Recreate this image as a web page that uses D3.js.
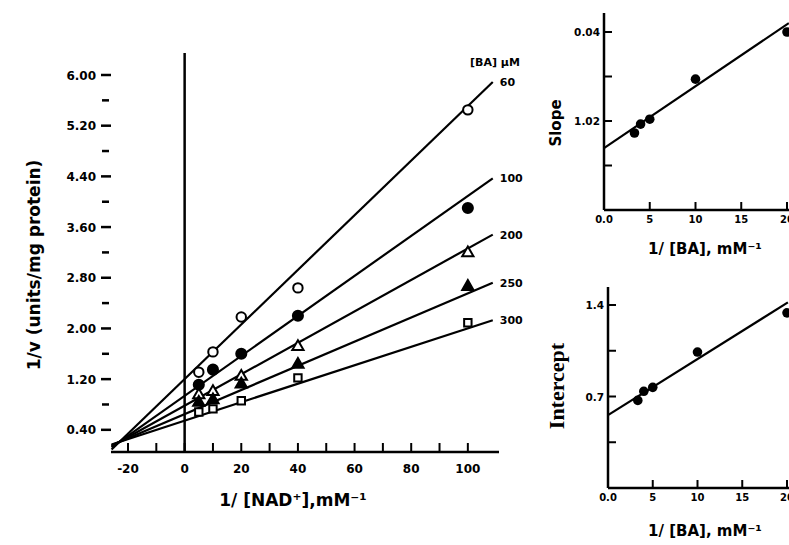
<!DOCTYPE html>
<html><head><meta charset="utf-8">
<script src="https://cdn.jsdelivr.net/npm/d3@7"></script>
<style>
html,body{margin:0;padding:0;background:#fff;}
svg{display:block;}
text{font-family:"DejaVu Sans",sans-serif;font-weight:bold;fill:#000;}
</style></head>
<body>
<svg id="c" width="789" height="545"></svg>
<script>
// ---------- Main Lineweaver-Burk plot ----------
const nadX = [5, 10, 20, 40, 100];
const seriesNames = ["60", "100", "200", "250", "300"];
const s60  = [1.31, 1.63, 2.18, 2.64, 5.45];
const s100 = [1.11, 1.35, 1.60, 2.20, 3.90];
const s200 = [0.95, 1.00, 1.24, 1.71, 3.19];
const s250 = [0.83, 0.87, 1.12, 1.43, 2.66];
const s300 = [0.68, 0.73, 0.86, 1.22, 2.09];
const fitSlope     = [0.0431, 0.03156, 0.02481, 0.01904, 0.01457];
const fitIntercept = [1.201, 0.936, 0.781, 0.648, 0.545];
const fitRange = [-25.8, 108.8];
const mainXTicks = [-20, 0, 20, 40, 60, 80, 100];
const mainYTicks = ["6.00", "5.20", "4.40", "3.60", "2.80", "2.00", "1.20", "0.40"];

// ---------- Insets ----------
const baX = [3.33, 4, 5, 10, 20];
const slopeVals = [0.0173, 0.0193, 0.0204, 0.0294, 0.0400];
const slopeFit = [0.0139, 0.042];      // at x=0 and x=20.2
const interceptVals = [0.67, 0.74, 0.77, 1.04, 1.34];
const interceptFit = [0.557, 1.42];    // at x=0 and x=20.1
const insetXTicks = ["0.0", "5", "10", "15", "20"];
const slopeYTicks = [[0.04, "0.04"], [0.03, ""], [0.02, "1.02"], [0.01, ""]];
const interceptYTicks = [[1.4, "1.4"], [1.05, ""], [0.7, "0.7"], [0.35, ""]];

const svg = d3.select("#c");
svg.append("rect").attr("width", 789).attr("height", 545).attr("fill", "#fff");

const x = d3.scaleLinear().domain([-26, 111]).range([111, 499]);
const y = d3.scaleLinear().domain([0.05, 6.0]).range([452, 75]);
const g = svg.append("g");

// x axis line
g.append("line").attr("x1", x(-26)).attr("x2", x(111)).attr("y1", y(0.05)).attr("y2", y(0.05))
  .attr("stroke", "#000").attr("stroke-width", 2.5);
// x ticks every 10 (inward)
d3.range(-20, 101, 10).forEach(t => {
  g.append("line").attr("x1", x(t)).attr("x2", x(t)).attr("y1", y(0.05)).attr("y2", y(0.05) - 9)
    .attr("stroke", "#000").attr("stroke-width", 2);
});
mainXTicks.forEach(t => {
  g.append("text").attr("x", x(t)).attr("y", y(0.05) + 21).attr("text-anchor", "middle")
    .attr("font-size", 12).text(t < 0 ? "-" + Math.abs(t) : t);
});
// vertical line at x=0
g.append("line").attr("x1", x(0)).attr("x2", x(0)).attr("y1", 53).attr("y2", y(0.05))
  .attr("stroke", "#000").attr("stroke-width", 2.5);
// y ticks (no axis line)
mainYTicks.forEach(t => {
  const v = +t;
  g.append("line").attr("x1", 101).attr("x2", 111).attr("y1", y(v)).attr("y2", y(v))
    .attr("stroke", "#000").attr("stroke-width", 2.5);
  g.append("text").attr("x", 96).attr("y", y(v) + 4.5).attr("text-anchor", "end")
    .attr("font-size", 12).text(t);
  if (v > 0.5) {
    g.append("line").attr("x1", 102).attr("x2", 109).attr("y1", y(v - 0.4)).attr("y2", y(v - 0.4))
      .attr("stroke", "#000").attr("stroke-width", 2.5);
  }
});
// axis titles
g.append("text").attr("transform", `translate(40,${265}) rotate(-90)`).attr("text-anchor", "middle")
  .attr("font-size", 17).text("1/v  (units/mg protein)");
g.append("text").attr("x", 293).attr("y", 506).attr("text-anchor", "middle")
  .attr("font-size", 17).text("1/ [NAD⁺],mM⁻¹");

// fitted lines
const allSeries = [s60, s100, s200, s250, s300];
allSeries.forEach((s, i) => {
  const f = v => fitIntercept[i] + fitSlope[i] * v;
  g.append("line").attr("x1", x(fitRange[0])).attr("y1", y(f(fitRange[0])))
    .attr("x2", x(fitRange[1])).attr("y2", y(f(fitRange[1])))
    .attr("stroke", "#000").attr("stroke-width", 2.2);
  g.append("text").attr("x", x(fitRange[1]) + 7).attr("y", y(f(fitRange[1])) + 4)
    .attr("font-size", 11).text(seriesNames[i]);
});
g.append("text").attr("x", 470).attr("y", 66).attr("font-size", 11).text("[BA] μM");

// markers
const sym = [
  {t: d3.symbolCircle, size: 70, fill: "#fff"},
  {t: d3.symbolCircle, size: 80, fill: "#000"},
  {t: d3.symbolTriangle, size: 55, fill: "#fff"},
  {t: d3.symbolTriangle, size: 55, fill: "#000"},
  {t: d3.symbolSquare, size: 55, fill: "#fff"}
];
allSeries.forEach((s, i) => {
  g.selectAll(null).data(s).enter().append("path")
    .attr("d", d3.symbol().type(sym[i].t).size(sym[i].size))
    .attr("transform", (d, j) => `translate(${x(nadX[j])},${y(d)})`)
    .attr("fill", sym[i].fill).attr("stroke", "#000").attr("stroke-width", 2);
});

// ---------- inset helper ----------
function inset(opts) {
  const ig = svg.append("g");
  const ix = d3.scaleLinear().domain([0, 20]).range(opts.xr);
  const iy = d3.scaleLinear().domain(opts.yd).range(opts.yr);
  const base = iy(0);
  ig.append("line").attr("x1", ix(0)).attr("x2", ix(0)).attr("y1", opts.top).attr("y2", base)
    .attr("stroke", "#000").attr("stroke-width", 2.5);
  ig.append("line").attr("x1", ix(0)).attr("x2", 800).attr("y1", base).attr("y2", base)
    .attr("stroke", "#000").attr("stroke-width", 2.5);
  insetXTicks.forEach(t => {
    const v = +t;
    if (v > 0) ig.append("line").attr("x1", ix(v)).attr("x2", ix(v)).attr("y1", base).attr("y2", base - 8)
      .attr("stroke", "#000").attr("stroke-width", 2);
    ig.append("text").attr("x", ix(v)).attr("y", base + 13).attr("text-anchor", "middle")
      .attr("font-size", 10).text(t);
  });
  opts.yt.forEach(([v, lab]) => {
    ig.append("line").attr("x1", ix(0)).attr("x2", ix(0) + 8).attr("y1", iy(v)).attr("y2", iy(v))
      .attr("stroke", "#000").attr("stroke-width", 2);
    if (lab) ig.append("text").attr("x", ix(0) - 4).attr("y", iy(v) + 4).attr("text-anchor", "end")
      .attr("font-size", 10.5).text(lab);
  });
  ig.append("line").attr("x1", ix(0)).attr("y1", iy(opts.fit[0]))
    .attr("x2", ix(opts.fitX)).attr("y2", iy(opts.fit[1]))
    .attr("stroke", "#000").attr("stroke-width", 2.2);
  ig.selectAll(null).data(opts.vals).enter().append("circle")
    .attr("cx", (d, j) => ix(baX[j])).attr("cy", d => iy(d)).attr("r", 4.8).attr("fill", "#000");
  ig.append("text").attr("transform", `translate(${opts.labX},${opts.labY}) rotate(-90)`)
    .attr("text-anchor", "middle").attr("font-size", opts.labSize)
    .style("font-family", opts.labFont).text(opts.label);
  ig.append("text").attr("x", 705).attr("y", base + opts.xlabDy).attr("text-anchor", "middle")
    .attr("font-size", 15).text("1/ [BA], mM⁻¹");
}
inset({xr: [604, 787], yd: [0, 0.04], yr: [210, 32], top: 13, yt: slopeYTicks,
  fit: slopeFit, fitX: 20.2, vals: slopeVals, label: "Slope", labX: 561, labY: 123,
  labSize: 15, labFont: "DejaVu Sans", xlabDy: 44});
inset({xr: [608, 787], yd: [0, 1.4], yr: [488, 305], top: 287, yt: interceptYTicks,
  fit: interceptFit, fitX: 20.1, vals: interceptVals, label: "Intercept", labX: 564, labY: 386,
  labSize: 22, labFont: "Liberation Serif", xlabDy: 48});
</script>
</body></html>
